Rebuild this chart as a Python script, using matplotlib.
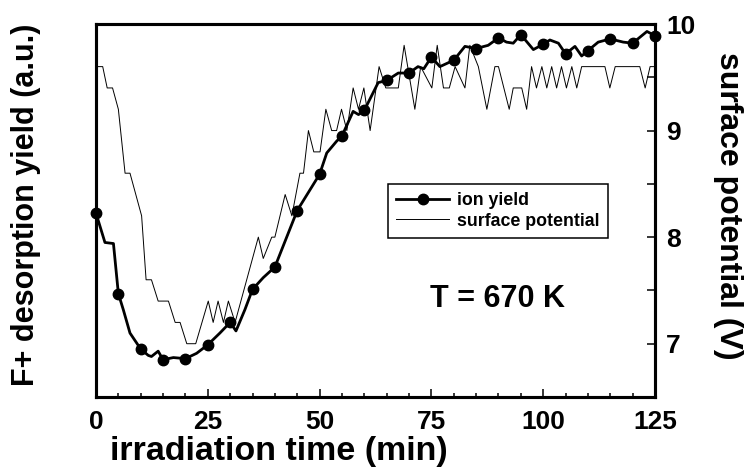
import matplotlib
matplotlib.use('Agg')
import matplotlib.pyplot as plt
from matplotlib.ticker import MultipleLocator, NullLocator

plt.rcParams['font.family'] = ['Liberation Sans', 'DejaVu Sans']
plt.rcParams['font.weight'] = 'bold'

# ---- data ----
ion_t = [0, 2.0, 3.9, 5, 6.1, 7.6, 10, 11.7, 12.4, 13.9, 15, 17.3, 20, 22.5, 25,
         27.7, 30, 31.3, 33.3, 35, 37.4, 40, 45, 50, 51.6, 53.8, 55, 57.5, 58.7,
         60, 63.1, 65, 67.6, 70, 72, 73.3, 75, 76.9, 80, 82.5, 85, 87.7, 90,
         91.8, 93.3, 95, 97.8, 100, 101.5, 103.4, 105, 107.1, 108.6, 110, 112.3,
         115, 117.9, 120, 123.2, 125]
ion_v = [8.225, 7.95, 7.94, 7.47, 7.32, 7.10, 6.95, 6.89, 6.88, 6.93, 6.85, 6.87,
         6.86, 6.91, 6.99, 7.10, 7.20, 7.12, 7.32, 7.51, 7.62, 7.72, 8.25, 8.59,
         8.79, 8.90, 8.95, 9.18, 9.15, 9.19, 9.45, 9.47, 9.54, 9.54, 9.60, 9.58,
         9.69, 9.60, 9.66, 9.79, 9.77, 9.80, 9.87, 9.83, 9.82, 9.90, 9.76, 9.81,
         9.85, 9.82, 9.72, 9.79, 9.70, 9.75, 9.83, 9.86, 9.83, 9.82, 9.93, 9.89]

pot_t = [0, 1.5, 2.5, 3.7, 5.0, 6.5, 7.6, 10.2, 11.2, 12.4, 13.9, 16.2, 17.7, 18.8,
         20.3, 22.3, 25.1, 26.2, 27.3, 28.5, 29.6, 31.1, 36.3, 37.4, 39.3, 40.0,
         42.3, 43.8, 45.6, 46.4, 47.5, 48.7, 50.1, 51.4, 52.7, 53.8, 54.9, 56.1,
         57.5, 58.7, 59.9, 61.3, 63.3, 64.8, 67.6, 68.9, 71.3, 72.6, 75.1, 76.3,
         77.7, 79.0, 80.3, 82.5, 83.6, 85.5, 87.4, 89.2, 90.0, 92.4, 93.3, 95.2,
         96.3, 97.4, 98.5, 99.7, 100.8, 101.9, 103.0, 104.1, 105.2, 106.4, 107.5,
         108.6, 113.8, 114.9, 116.1, 121.6, 122.8, 123.9, 125]
pot_v = [9.6, 9.6, 9.4, 9.4, 9.2, 8.6, 8.6, 8.2, 7.6, 7.6, 7.4, 7.4, 7.2, 7.2,
         7.0, 7.0, 7.4, 7.2, 7.4, 7.2, 7.4, 7.2, 8.0, 7.8, 8.0, 8.0,
         8.4, 8.2, 8.6, 8.6, 9.0, 8.8, 8.8, 9.2, 9.0, 9.0, 9.2, 9.0,
         9.4, 9.2, 9.4, 9.0, 9.6, 9.4, 9.4, 9.8, 9.2, 9.6, 9.4, 9.8,
         9.4, 9.4, 9.6, 9.4, 9.8, 9.6, 9.2, 9.6, 9.6, 9.2, 9.4, 9.4,
         9.2, 9.6, 9.4, 9.6, 9.4, 9.6, 9.4, 9.6, 9.4, 9.6, 9.4,
         9.6, 9.6, 9.4, 9.6, 9.6, 9.4, 9.6, 9.6]

x_ticks = [0, 25, 50, 75, 100, 125]
pot_ticks = [7, 8, 9, 10]

# ---- figure ----
W, H = 744, 469
fig = plt.figure(figsize=(W / 100, H / 100), dpi=100)
L, R, T, B = 96, 655, 24, 397
ax = fig.add_axes([L / W, 1 - B / H, (R - L) / W, (B - T) / H])
ax2 = ax.twinx()
ax.set_zorder(ax2.get_zorder() + 1)
ax.patch.set_visible(False)

marks = [i for i, t in enumerate(ion_t) if abs(t / 5 - round(t / 5)) < 1e-9]
l1, = ax.plot(ion_t, ion_v, color='black', lw=2.0, marker='o', ms=7.5,
              markevery=marks, clip_on=False, label='ion yield')
l2, = ax2.plot(pot_t, pot_v, color='black', lw=0.7, label='surface potential')

for a in (ax, ax2):
    a.set_xlim(0, 125)
    a.set_ylim(6.5, 10)
    for s in a.spines.values():
        s.set_linewidth(2.2)

ax.set_xticks(x_ticks)
ax.xaxis.set_minor_locator(MultipleLocator(5))
ax.yaxis.set_major_locator(NullLocator())
ax.yaxis.set_minor_locator(NullLocator())
ax.tick_params(axis='x', which='major', direction='in', length=6, width=1.1,
               labelsize=19, pad=9, top=False)
ax.tick_params(axis='x', which='minor', direction='in', length=3, width=1.1,
               top=False)
ax.tick_params(axis='y', left=False, labelleft=False)
for lab in ax.get_xticklabels():
    lab.set_fontweight('bold')

ax2.set_yticks(pot_ticks)
ax2.yaxis.set_minor_locator(MultipleLocator(0.5))
ax2.tick_params(axis='y', which='major', direction='in', length=6, width=1.1,
                labelsize=19, pad=8)
ax2.tick_params(axis='y', which='minor', direction='in', length=6, width=1.1)
for lab in ax2.get_yticklabels():
    lab.set_fontweight('bold')

# labels
fig.text(279 / W, 1 - 451 / H, 'irradiation time (min)', ha='center', va='center',
         fontsize=24.5, fontweight='bold')
fig.text(26 / W, 1 - 205 / H, 'F+ desorption yield (a.u.)', ha='center',
         va='center', rotation=90, fontsize=22, fontweight='bold')
fig.text(728 / W, 1 - 206 / H, 'surface potential (V)', ha='center',
         va='center', rotation=270, fontsize=23, fontweight='bold')

ax.text((430 - L) / (R - L), (B - 306.7) / (B - T), 'T = 670 K',
        transform=ax.transAxes, ha='left', va='baseline', fontsize=22,
        fontweight='bold')

leg = ax.legend(handles=[l1, l2], loc='upper left',
                bbox_to_anchor=((388 - L) / (R - L), (B - 184) / (B - T)),
                borderaxespad=0, fancybox=False, edgecolor='black',
                framealpha=1, prop={'size': 12.8, 'weight': 'bold'},
                handlelength=3.0, handletextpad=0.45, labelspacing=0.2,
                borderpad=0.45)
leg.get_frame().set_linewidth(1.1)
l1_leg = leg.get_lines()[0]
l1_leg.set_markersize(7.5)

fig.savefig('out.png', dpi=100)
